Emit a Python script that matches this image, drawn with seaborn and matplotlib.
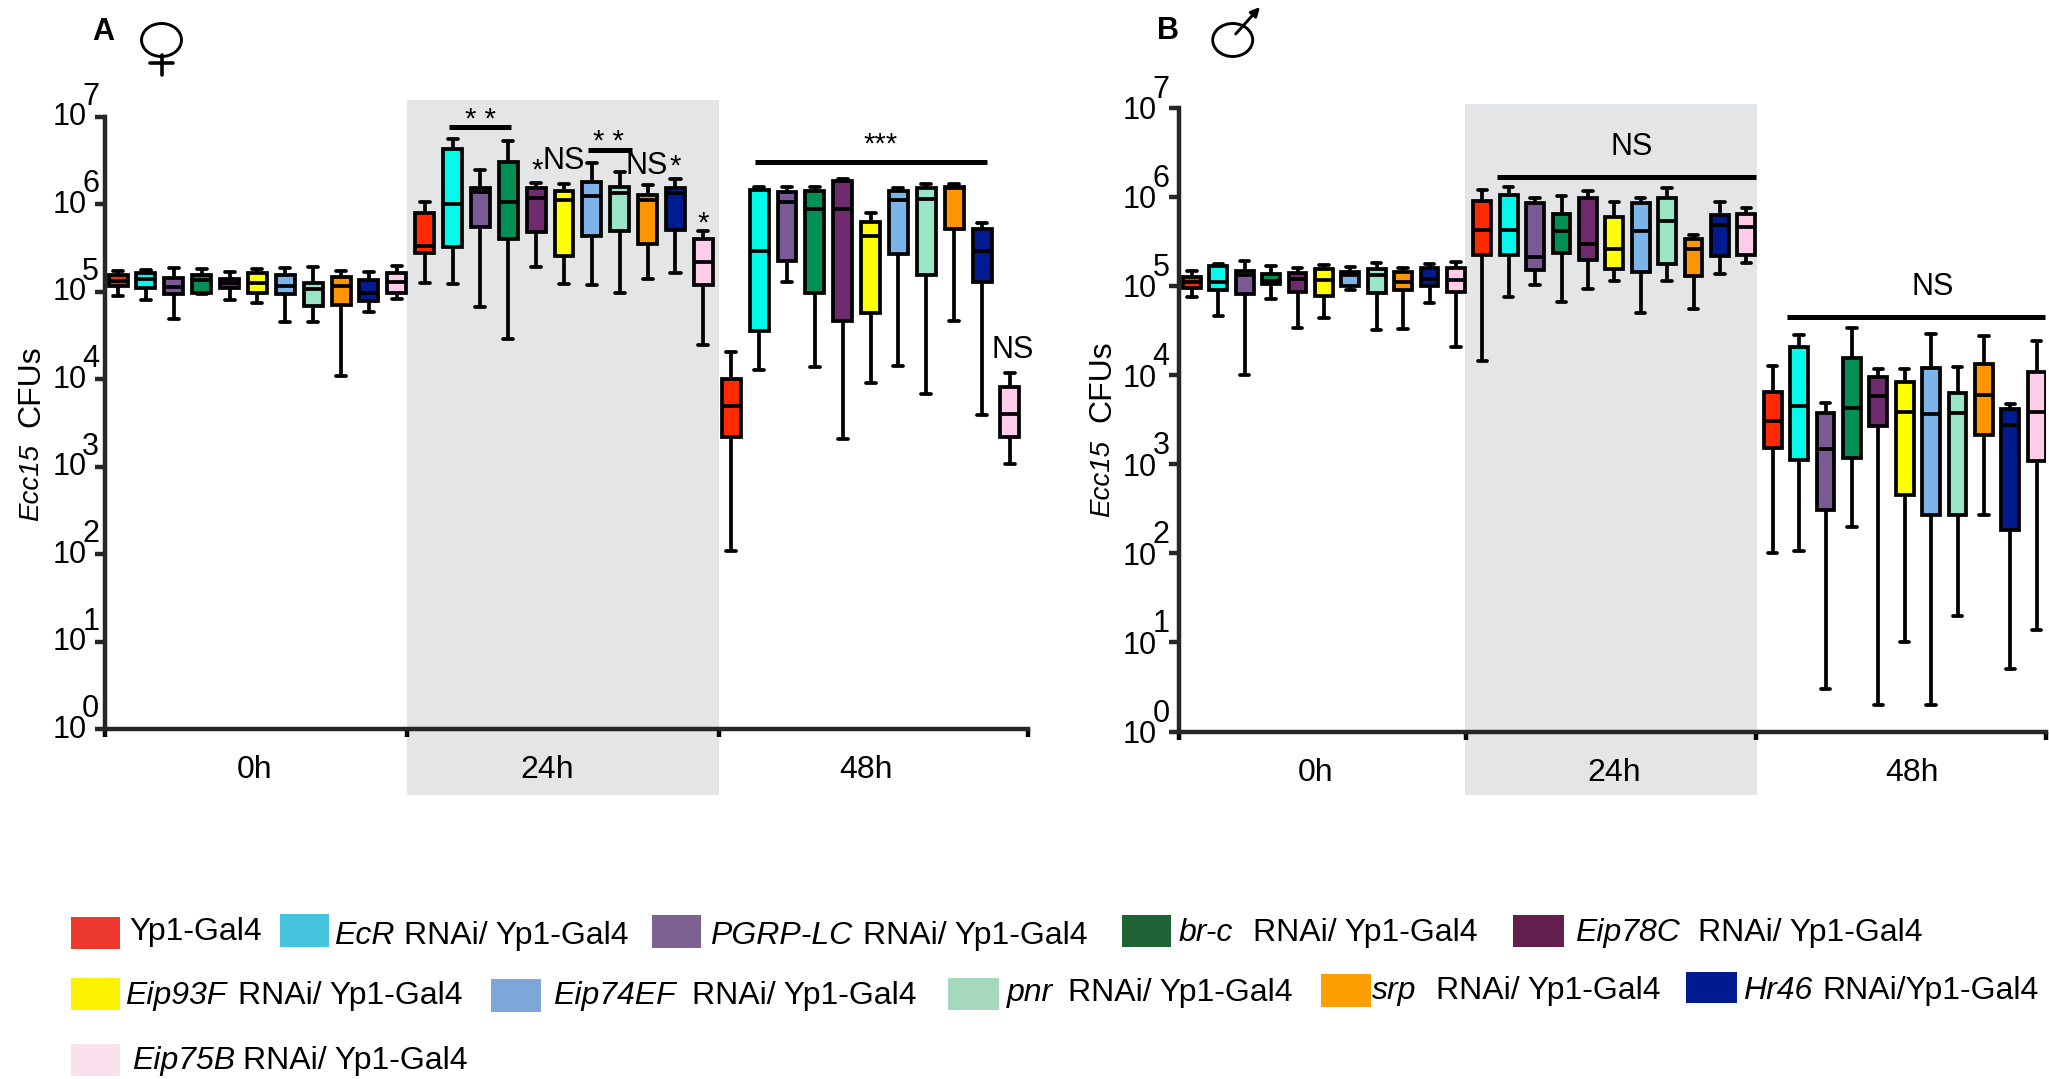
import numpy as np
import pandas as pd
import seaborn as sns
import matplotlib.pyplot as plt
from matplotlib.patches import Ellipse, Rectangle
from matplotlib.transforms import Affine2D

W, H = 2049, 1079

genotypes = ['Yp1-Gal4', 'EcR', 'PGRP-LC', 'br-c', 'Eip78C', 'Eip93F', 'Eip74EF', 'pnr', 'srp', 'Hr46', 'Eip75B']
box_colors = ['#FF2A00', '#00FBEA', '#7A5A94', '#008F55', '#702A6E', '#FFFF00',
              '#7CB3E8', '#99E5C5', '#FF9500', '#001A90', '#FFCCEA']
swatch_colors = ['#EE3A2E', '#47C4DD', '#7D6291', '#1D6336', '#651F4E', '#FFF200',
                 '#7DA7D8', '#A5D8BF', '#FF9E00', '#001A90', '#F9E0EC']
times = ['0h', '24h', '48h']

# log10 CFU per box: whisker top, q3, median, q1, whisker bottom
female_0h = [[5.24, 5.19, 5.12, 5.06, 4.95], [5.25, 5.21, 5.14, 5.04, 4.90], [5.27, 5.16, 5.05, 4.97, 4.69],
             [5.26, 5.19, 5.13, 4.98, 4.97], [5.22, 5.14, 5.10, 5.04, 4.91], [5.26, 5.21, 5.10, 4.98, 4.87],
             [5.27, 5.19, 5.07, 4.97, 4.65], [5.28, 5.10, 5.03, 4.84, 4.65], [5.24, 5.17, 5.06, 4.85, 4.04],
             [5.22, 5.13, 4.99, 4.89, 4.77], [5.29, 5.21, 5.11, 4.99, 4.92]]
female_24h = [[6.03, 5.90, 5.52, 5.44, 5.10], [6.75, 6.63, 6.00, 5.51, 5.09], [6.39, 6.18, 6.14, 5.74, 4.82],
              [6.72, 6.48, 6.03, 5.60, 4.46], [6.24, 6.18, 6.07, 5.68, 5.28], [6.23, 6.15, 6.05, 5.41, 5.09],
              [6.47, 6.25, 6.09, 5.64, 5.08], [6.37, 6.20, 6.13, 5.69, 4.99], [6.22, 6.11, 6.05, 5.54, 5.15],
              [6.29, 6.19, 6.13, 5.70, 5.21], [5.69, 5.60, 5.34, 5.08, 4.39]]
female_48h = [[4.31, 4.00, 3.69, 3.34, 2.04], [6.20, 6.16, 5.46, 4.55, 4.10], [6.20, 6.14, 6.02, 5.35, 5.11],
              [6.20, 6.15, 5.95, 4.99, 4.14], [6.29, 6.26, 5.95, 4.66, 3.31], [5.90, 5.80, 5.64, 4.76, 3.96],
              [6.18, 6.15, 6.05, 5.43, 4.15], [6.23, 6.18, 6.06, 5.19, 3.83], [6.23, 6.20, 6.18, 5.72, 4.66],
              [5.78, 5.72, 5.46, 5.11, 3.59], [4.07, 3.91, 3.60, 3.34, 3.03]]
male_0h = [[5.17, 5.10, 5.04, 4.98, 4.88], [5.25, 5.22, 5.04, 4.95, 4.66], [5.28, 5.17, 5.12, 4.91, 4.00],
           [5.22, 5.13, 5.06, 5.02, 4.85], [5.20, 5.14, 5.08, 4.93, 4.53], [5.23, 5.19, 5.07, 4.89, 4.64],
           [5.21, 5.16, 5.12, 5.00, 4.95], [5.26, 5.19, 5.12, 4.92, 4.51], [5.20, 5.16, 5.04, 4.95, 4.52],
           [5.25, 5.20, 5.08, 5.00, 4.81], [5.27, 5.20, 5.07, 4.93, 4.31]]
male_24h = [[6.08, 5.95, 5.63, 5.35, 4.16], [6.11, 6.02, 5.63, 5.35, 4.88], [5.99, 5.93, 5.32, 5.18, 5.01],
            [6.01, 5.81, 5.62, 5.37, 4.82], [6.07, 5.99, 5.47, 5.29, 4.96], [5.94, 5.77, 5.42, 5.19, 5.06],
            [5.99, 5.93, 5.62, 5.16, 4.70], [6.10, 5.99, 5.73, 5.25, 5.05], [5.57, 5.53, 5.41, 5.11, 4.74],
            [5.94, 5.80, 5.68, 5.34, 5.13], [5.88, 5.81, 5.66, 5.35, 5.26]]
male_48h = [[4.10, 3.81, 3.48, 3.18, 2.00], [4.45, 4.31, 3.65, 3.05, 2.02], [3.69, 3.57, 3.17, 2.49, 0.48],
            [4.53, 4.19, 3.63, 3.07, 2.30], [4.07, 3.98, 3.77, 3.43, 0.30], [4.07, 3.92, 3.58, 2.65, 1.00],
            [4.46, 4.08, 3.56, 2.43, 0.30], [4.09, 3.80, 3.57, 2.43, 1.30], [4.44, 4.12, 3.78, 3.33, 2.43],
            [3.68, 3.62, 3.44, 2.26, 0.70], [4.38, 4.03, 3.59, 3.04, 1.14]]

sns.set_theme(style='ticks')
plt.rcParams['font.family'] = ['Liberation Sans', 'DejaVu Sans']


def long_table(groups):
    # five values per box, so the quartiles land exactly on them
    rows = []
    for t, group in enumerate(groups):
        for g, vals in enumerate(group):
            for v in vals:
                rows.append({'slot': t * 11 + g, 'genotype': genotypes[g], 'cfu': 10 ** v})
    return pd.DataFrame(rows)


def draw_panel(rect, groups, x0, step, edges, centers, lab_pad, lab_shift, exp_dx, exp_dy):
    left, top, right, bottom = rect
    ax = fig.add_axes([left / W, 1 - bottom / H, (right - left) / W, (bottom - top) / H])
    ax.set_zorder(2)
    ax.patch.set_alpha(0)
    sns.boxplot(data=long_table(groups), x='slot', y='cfu', hue='genotype', hue_order=genotypes,
                palette=dict(zip(genotypes, box_colors)), dodge=False, saturation=1, width=0.68,
                linewidth=2.7, linecolor='black', whis=(0, 100), log_scale=10, legend=False,
                capwidths=0.36, capprops={'solid_capstyle': 'round'}, ax=ax)
    ax.set_xlim((left - x0) / step, (right - x0) / step)
    ax.set_ylim(1, 1e7)
    ax.set_yticks([10.0 ** e for e in range(8)], labels=['10'] * 8)
    ax.minorticks_off()
    ax.set_xticks([(e - x0) / step for e in edges], labels=[''] * len(edges))
    ax.set_xticks([(c - x0) / step for c in centers], labels=times, minor=True)
    ax.set_xlabel('')
    ax.set_ylabel('')
    ax.tick_params(axis='x', which='major', length=6, width=3.2, color='black')
    ax.tick_params(axis='x', which='minor', length=0, pad=19, labelsize=23, labelcolor='black')
    ax.tick_params(axis='y', which='major', length=7, width=3.2, pad=lab_pad, labelsize=22, labelcolor='black')
    for lab in ax.get_yticklabels():
        lab.set_transform(lab.get_transform() + Affine2D().translate(0, lab_shift))
    for e in range(8):
        ax.annotate(str(e), xy=(0, 10.0 ** e), xycoords=('axes fraction', 'data'),
                    xytext=(exp_dx, exp_dy), textcoords='offset pixels', fontsize=22,
                    ha='center', va='center', color='black')
    for side in ['left', 'bottom']:
        ax.spines[side].set_linewidth(3.2)
    sns.despine(ax=ax)
    return ax


fig = plt.figure(figsize=(W / 100, H / 100), dpi=100)
page = fig.add_axes([0, 0, 1, 1])
page.set_xlim(0, W)
page.set_ylim(H, 0)
page.axis('off')
page.set_zorder(1)

page.add_patch(Rectangle((407, 99.5), 312, 695, color='#E4E5E7', lw=0))
page.add_patch(Rectangle((1465, 104), 292, 690.5, color='#E4E5E7', lw=0))

draw_panel((104.7, 116.7, 1028, 729), [female_0h, female_24h, female_48h], 118.1, 27.87,
           [104.7, 407, 719, 1028], [255, 547.5, 866], 6, 3, -14, 20)
draw_panel((1179, 107.7, 2046, 731.5), [male_0h, male_24h, male_48h], 1191.9, 26.4,
           [1179, 1466, 1756, 2046], [1316, 1614, 1912], 9, 0, -18, 18)


def page_text(x, y, s, **kw):
    kw.setdefault('fontsize', 22)
    kw.setdefault('ha', 'center')
    kw.setdefault('va', 'center')
    page.text(x, y, s, color='black', zorder=5, **kw)


def sig_bar(x1, x2, y):
    page.plot([x1, x2], [y, y], color='black', lw=3.6, solid_capstyle='butt', zorder=5)


# significance marks
sig_bar(449, 511, 126.7)
page_text(480, 120, '* *', fontsize=21)
sig_bar(588, 631.6, 150.3)
page_text(608.6, 142, '* *', fontsize=21)
page_text(537.5, 171, '*', fontsize=21)
page_text(564, 161, 'NS')
page_text(647, 166, 'NS')
page_text(675, 167, '*', fontsize=21)
page_text(703, 224, '*', fontsize=21)
sig_bar(755, 987, 162)
page_text(880.7, 145, '***', fontsize=21)
page_text(1013, 350, 'NS')
sig_bar(1497, 1756, 176.7)
page_text(1631.6, 146.7, 'NS')
sig_bar(1787, 2045, 316.7)
page_text(1933, 287, 'NS')

# panel letters and sex symbols
page_text(103, 32, 'A', fontweight='bold')
page_text(1168, 31, 'B', fontweight='bold')
page.add_patch(Ellipse((161.5, 40), 40, 33, fill=False, ec='black', lw=2.1))
page.plot([161.5, 161.5], [55, 75], color='black', lw=2.6)
page.plot([150, 173], [62.7, 62.7], color='black', lw=2.6)
page.add_patch(Ellipse((1232.7, 40), 40, 33, fill=False, ec='black', lw=2.1))
page.annotate('', xy=(1260, 7), xytext=(1235.7, 34),
              arrowprops=dict(arrowstyle='-|>', color='black', lw=2.1, mutation_scale=13, shrinkA=0, shrinkB=0))

# y axis titles
page_text(31, 521, 'Ecc15', rotation=90, style='italic', ha='center', va='bottom', fontsize=20)
page_text(31, 427, 'CFUs', rotation=90, ha='center', va='bottom', fontsize=23)
page_text(1102, 517, 'Ecc15', rotation=90, style='italic', ha='center', va='bottom', fontsize=20)
page_text(1102, 422, 'CFUs', rotation=90, ha='center', va='bottom', fontsize=23)

# legend: swatch left/top/right/bottom, italic x, plain x, text y
legend_layout = [
    (71, 917, 120, 949, None, 129.5, 932, 'Yp1-Gal4'),
    (279.5, 914, 329, 947, 334, 404, 936, 'RNAi/ Yp1-Gal4'),
    (652, 915, 701, 948, 710, 862.6, 936, 'RNAi/ Yp1-Gal4'),
    (1122, 915, 1171, 947, 1179, 1253, 933, 'RNAi/ Yp1-Gal4'),
    (1513.4, 915, 1563.7, 947, 1575, 1698, 933, 'RNAi/ Yp1-Gal4'),
    (71, 978, 120, 1010, 125, 238, 996, 'RNAi/ Yp1-Gal4'),
    (490.7, 979, 541, 1012, 553, 692, 996, 'RNAi/ Yp1-Gal4'),
    (948, 978, 999, 1010, 1007, 1067.5, 993, 'RNAi/ Yp1-Gal4'),
    (1321, 974, 1371, 1007, 1372, 1436, 991, 'RNAi/ Yp1-Gal4'),
    (1686, 972, 1737, 1003, 1743, 1822, 991, 'RNAi/Yp1-Gal4'),
    (71, 1044, 120, 1076, 132, 243, 1061, 'RNAi/ Yp1-Gal4'),
]
for name, color, (x1, y1, x2, y2, xi, xr, yt, plain) in zip(genotypes, swatch_colors, legend_layout):
    page.add_patch(Rectangle((x1, y1), x2 - x1, y2 - y1, color=color, lw=0))
    if xi is not None:
        page_text(xi, yt, name, style='italic', ha='left', fontsize=23)
    page_text(xr, yt, plain, ha='left', fontsize=23)

fig.savefig('out.png', dpi=100)
